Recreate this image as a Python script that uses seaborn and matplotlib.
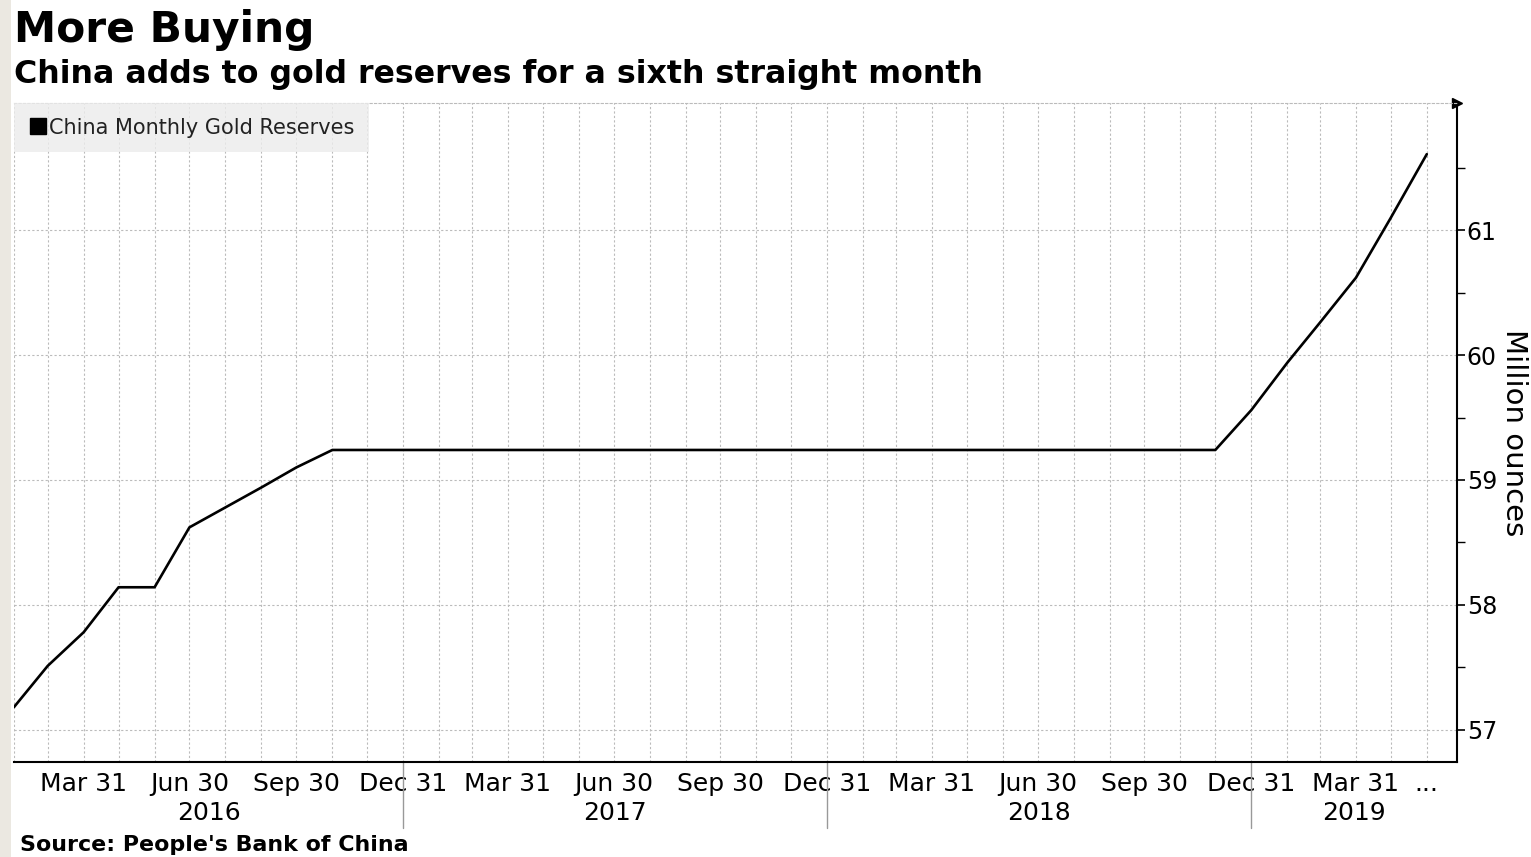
import pandas as pd
import numpy as np
import matplotlib
matplotlib.use("Agg")
import matplotlib.pyplot as plt
import matplotlib.dates as mdates
import matplotlib.transforms as mtransforms
from matplotlib.lines import Line2D
from matplotlib.patches import Rectangle
import seaborn as sns

# month-end dates, Jan 2016 .. May 2019
months = pd.date_range("2016-01-31", "2019-05-31", freq="ME")

# China monthly gold reserves, million ounces
reserves = [57.18, 57.51, 57.78, 58.14, 58.14, 58.62, 58.78, 58.94, 59.10,
            59.24, 59.24, 59.24,
            59.24, 59.24, 59.24, 59.24, 59.24, 59.24, 59.24, 59.24, 59.24, 59.24, 59.24, 59.24,
            59.24, 59.24, 59.24, 59.24, 59.24, 59.24, 59.24, 59.24, 59.24, 59.24, 59.24,
            59.56,
            59.94, 60.26, 60.62, 61.10, 61.61]

tick_dates = pd.date_range("2016-03-31", "2019-03-31", freq="QE").tolist() + [pd.Timestamp("2019-05-31")]
tick_labels = [d.strftime("%b %d").replace(" 0", " ") for d in tick_dates[:-1]] + ["..."]
year_labels = ["2016", "2017", "2018", "2019"]
year_breaks = ["2016-12-31", "2017-12-31", "2018-12-31"]

df = pd.DataFrame({"date": months, "value": reserves})

sns.set_style("white")
plt.rcParams["font.family"] = ["DejaVu Sans"]
plt.rcParams["text.color"] = "black"

fig = plt.figure(figsize=(15.31, 8.57), dpi=100)
ax = fig.add_axes([14 / 1531, 95 / 857, (1457 - 14) / 1531, (762 - 103) / 857])

sns.lineplot(data=df, x="date", y="value", ax=ax, color="black", linewidth=1.9,
             label="China Monthly Gold Reserves", legend=False)

# y axis on right
ax.yaxis.tick_right()
ax.yaxis.set_label_position("right")
ax.set_yticks([57, 58, 59, 60, 61])
ax.set_yticks(np.arange(56.5, 62.0, 1.0), minor=True)
ax.tick_params(axis="y", which="major", direction="out", length=6, width=1.2,
               labelsize=17, pad=1, colors="black")
ax.tick_params(axis="y", which="minor", direction="out", length=6, width=1, colors="black")
ax.set_ylabel("Million ounces", rotation=270, fontsize=21, labelpad=22, color="black")

# x axis
ax.set_xticks(tick_dates)
ax.set_xticklabels(tick_labels)
ax.set_xticks(months, minor=True)
ax.tick_params(axis="x", which="both", direction="out", length=5, width=1,
               labelsize=18, pad=2, colors="black")
ax.set_xlabel("")

ax.set_xlim(pd.Timestamp("2016-01-31"), pd.Timestamp("2019-06-26"))
ax.set_ylim(56.74, 62.02)

# grid
ax.grid(True, which="both", axis="x", color="#bbbbbb", linestyle=(0, (2, 2)), linewidth=0.8)
ax.grid(True, which="major", axis="y", color="#bbbbbb", linestyle=(0, (2, 2)), linewidth=0.8)

ax.spines["left"].set_visible(False)
ax.spines["top"].set_color("#bbbbbb")
ax.spines["top"].set_linestyle((0, (2, 2)))
ax.spines["top"].set_linewidth(0.8)
ax.spines["right"].set_color("black")
ax.spines["right"].set_linewidth(1.5)
ax.spines["bottom"].set_color("black")
ax.spines["bottom"].set_linewidth(1.5)

# arrow on top of right axis
ax.plot([1.0], [1.0], marker=">", color="black", markersize=7, transform=ax.transAxes, clip_on=False)

# year labels and separators
trans = mtransforms.blended_transform_factory(ax.transData, ax.transAxes)
lo, hi = ax.get_xlim()
edges = [lo] + [mdates.date2num(pd.Timestamp(b)) for b in year_breaks] + [hi]
for i, lab in enumerate(year_labels):
    ax.text((edges[i] + edges[i + 1]) / 2, -0.077, lab, transform=trans,
            ha="center", va="center", fontsize=18)
for b in year_breaks:
    xb = mdates.date2num(pd.Timestamp(b))
    ax.plot([xb, xb], [0, -0.1], transform=trans, color="#999999", linewidth=1, clip_on=False)

# legend
handle = Line2D([], [], marker="s", color="black", linestyle="none", markersize=11)
leg = ax.legend([handle], ["China Monthly Gold Reserves"], loc="upper left",
                bbox_to_anchor=(0, 1), borderaxespad=0, frameon=True, fancybox=False,
                fontsize=15, handletextpad=0.1, handlelength=0.9, borderpad=0.7)
leg.get_frame().set_facecolor("#ececec")
leg.get_frame().set_edgecolor("none")
for t in leg.get_texts():
    t.set_color("#222222")

# titles
fig.text(14 / 1531, 1 - 30 / 857, "More Buying", fontsize=30.5, fontweight="bold", va="center", ha="left")
fig.text(14 / 1531, 1 - 74 / 857, "China adds to gold reserves for a sixth straight month",
         fontsize=22.8, fontweight="bold", va="center", ha="left")
fig.text(20 / 1531, 1 - 845 / 857, "Source: People's Bank of China", fontsize=15.9,
         fontweight="bold", va="center", ha="left")

# left strip
fig.patches.append(Rectangle((0, 0), 11 / 1531, 1, transform=fig.transFigure,
                             facecolor="#ebe8e1", edgecolor="none"))

fig.savefig("out.png", dpi=100)
